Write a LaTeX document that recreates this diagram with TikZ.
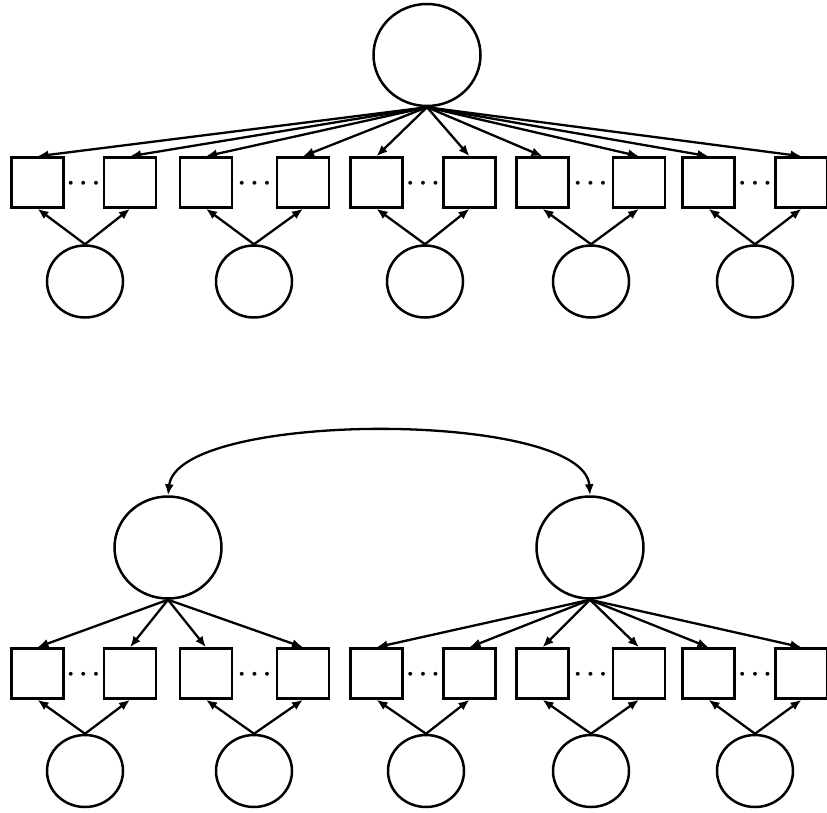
\documentclass[tikz,border=0pt]{standalone}
\usetikzlibrary{shapes.geometric,arrows.meta}
\tikzset{
  latent/.style={draw,ellipse,line width=2.5pt,inner sep=0pt},
  biglat/.style={latent,minimum width=107pt,minimum height=102pt},
  smalllat/.style={latent,minimum width=76pt,minimum height=72pt},
  indicator/.style={draw,rectangle,line width=2.5pt,inner sep=0pt,minimum width=52pt,minimum height=50pt},
  tip/.tip={Latex[length=11pt,width=9pt]},
  load/.style={line width=2.3pt,-tip},
  cov/.style={line width=2.3pt,tip-tip},
  ellip/.style={inner sep=0pt,font=\fontsize{29}{31}\selectfont\boldmath}
}
\begin{document}
\begin{tikzpicture}[x=1pt,y=-1pt]
\useasboundingbox (0,0) rectangle (827,813);

% ---------- one-factor model ----------
\node[biglat] (T) at (427,55) {};
\foreach \i/\x in {1/37.5,2/130,3/206,4/303,5/376.5,6/469.5,7/542.5,8/639,9/708.5,10/801.5}{
  \node[indicator] (t\i) at (\x,182.5) {};
  \draw[load] (T.south) -- (t\i.north);
}
\foreach \k/\x/\d in {1/85/83.5,2/254/254.5,3/425/423,4/591/590.5,5/755/755}{
  \node[smalllat] (tc\k) at (\x,281.5) {};
  \node[ellip] (td\k) at (\d,184) {$\cdots$};
}
\foreach \k in {1,...,5}{
  \pgfmathtruncatemacro{\a}{2*\k-1}
  \pgfmathtruncatemacro{\b}{2*\k}
  \draw[load] (tc\k.north) -- (t\a.south);
  \draw[load] (tc\k.north) -- (t\b.south);
}

% ---------- two correlated factors ----------
\node[biglat] (L) at (168,547.5) {};
\node[biglat] (R) at (590,547.5) {};
\draw[cov] (L.north) .. controls (178,410) and (584,410) .. (R.north);
\foreach \i/\x in {1/37.5,2/130,3/206,4/303,5/376.5,6/469.5,7/542.5,8/639,9/708.5,10/801.5}{
  \node[indicator] (b\i) at (\x,673.5) {};
}
\foreach \i in {1,...,4}{
  \draw[load] (L.south) -- (b\i.north);
}
\foreach \i in {5,...,10}{
  \draw[load] (R.south) -- (b\i.north);
}
\foreach \k/\x/\d in {1/85/83.5,2/254/254.5,3/426/423,4/591/590.5,5/755/755}{
  \node[smalllat] (bc\k) at (\x,771) {};
  \node[ellip] (bd\k) at (\d,675) {$\cdots$};
}
\foreach \k in {1,...,5}{
  \pgfmathtruncatemacro{\a}{2*\k-1}
  \pgfmathtruncatemacro{\b}{2*\k}
  \draw[load] (bc\k.north) -- (b\a.south);
  \draw[load] (bc\k.north) -- (b\b.south);
}
\end{tikzpicture}
\end{document}
